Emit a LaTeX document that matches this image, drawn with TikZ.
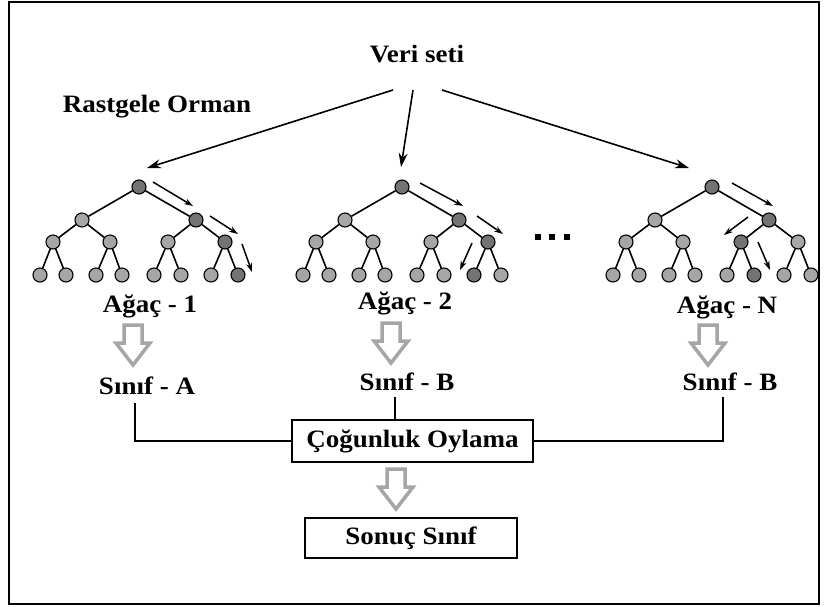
\documentclass[tikz,border=0pt]{standalone}
\usepackage{graphicx}
\usepackage{fontspec}
\setmainfont{Liberation Serif}
\usetikzlibrary{arrows.meta}
\tikzset{
  lbl/.style={inner sep=0pt, anchor=base, font=\fontsize{25}{29}\selectfont\bfseries},
  tn/.style={circle, draw=black, line width=1.1pt, minimum size=14pt, inner sep=0pt},
  lt/.style={tn, fill=black!35},
  dk/.style={tn, fill=black!55},
  tedge/.style={line width=1.6pt},
  trav/.style={line width=1.5pt, -{Stealth[length=9pt,width=6pt]}},
  main/.style={line width=1.6pt, -{Stealth[length=14pt,width=9pt]}},
  box/.style={draw=black, line width=1.6pt, inner sep=0pt, font=\fontsize{25}{29}\selectfont\bfseries},
  conn/.style={line width=1.6pt},
  hollow/.style={draw=black!35, line width=3.5pt, fill=white, line join=miter},
  dotsq/.style={fill=black, minimum size=6.5pt, inner sep=0pt}
}
\newcommand\sx[1]{\scalebox{1.08}[1]{#1}}
% #1 prefix, #2 root x, #3 dark level-3 index, #4 dark leaf index
\newcommand\rftree[4]{%
  \node[dk] (#1r) at (#2,187) {};
  \node[lt] (#1a) at (#2-57,220) {};
  \node[dk] (#1b) at (#2+57,220) {};
  \foreach \i/\dx in {1/-86,2/-29,3/29,4/86}{
    \ifnum\i=#3 \def\st{dk}\else\def\st{lt}\fi
    \node[\st] (#1c\i) at (#2+\dx,242) {};
  }
  \foreach \i/\dx in {1/-99,2/-73,3/-43,4/-17,5/15,6/42,7/72,8/99}{
    \ifnum\i=#4 \def\st{dk}\else\def\st{lt}\fi
    \node[\st] (#1l\i) at (#2+\dx,275) {};
  }
  \draw[tedge] (#1r) -- (#1a);
  \draw[tedge] (#1r) -- (#1b);
  \draw[tedge] (#1a) -- (#1c1);
  \draw[tedge] (#1a) -- (#1c2);
  \draw[tedge] (#1b) -- (#1c3);
  \draw[tedge] (#1b) -- (#1c4);
  \foreach \k/\p/\q in {1/1/2,2/3/4,3/5/6,4/7/8}{
    \draw[tedge] (#1c\k) -- (#1l\p);
    \draw[tedge] (#1c\k) -- (#1l\q);
  }
}
\newcommand\hollowarrow[2]{%
  \draw[hollow] (#1-9,#2) -- (#1+9,#2) -- (#1+9,#2+18) -- (#1+17,#2+18)
     -- (#1,#2+40) -- (#1-17,#2+18) -- (#1-9,#2+18) -- cycle;
}
\begin{document}
\begin{tikzpicture}[x=1pt,y=-1pt]
\useasboundingbox (0,0) rectangle (827,606);
\draw[line width=2pt] (9,2) rectangle (819,604);

% titles
\node[lbl] (veri) at (417,62) {\sx{Veri seti}};
\node[lbl] (orman) at (157,112) {\sx{Rastgele Orman}};

% trees
\rftree{p}{139}{4}{8}
\rftree{q}{402}{4}{7}
\rftree{s}{712}{3}{6}

% main arrows
\coordinate (m1) at (393,90);
\coordinate (m2) at (413,90);
\coordinate (m3) at (442,90);
\coordinate (e1) at (147,168);
\coordinate (e2) at (401,167);
\coordinate (e3) at (689,168);
\draw[main] (m1) -- (e1);
\draw[main] (m2) -- (e2);
\draw[main] (m3) -- (e3);

% traversal arrows tree 1
\draw[trav] (139+14,182) -- (139+54,206);
\draw[trav] (139+71,216) -- (139+99,234);
\draw[trav] (139+103,244) -- (139+113,272);
% tree 2
\draw[trav] (402+18,183) -- (402+61,206);
\draw[trav] (402+75,216) -- (402+101,234);
\draw[trav] (402+70,243) -- (402+58,270);
% tree N
\draw[trav] (712+20,183) -- (712+61,206);
\draw[trav] (712+36,217) -- (712+12,235);
\draw[trav] (712+46,242) -- (712+58,270);

% dots
\node[dotsq] (d1) at (538,237) {};
\node[dotsq] (d2) at (552,237) {};
\node[dotsq] (d3) at (567,237) {};

% tree labels
\node[lbl] (t1) at (150,312) {\sx{Ağaç - 1}};
\node[lbl] (t2) at (405,309) {\sx{Ağaç - 2}};
\node[lbl] (tn) at (727,313) {\sx{Ağaç - N}};

% hollow arrows
\hollowarrow{133}{325}
\hollowarrow{391}{323}
\hollowarrow{708}{325}

% class labels
\node[lbl] (sA) at (147,394) {\sx{Sınıf - A}};
\node[lbl] (sB) at (407,390) {\sx{Sınıf - B}};
\node[lbl] (sN) at (730,390) {\sx{Sınıf - B}};

% boxes
\node[box, minimum width=241pt, minimum height=42pt] (vote) at (412.5,441) {\sx{Çoğunluk Oylama}};
\node[box, minimum width=212pt, minimum height=40pt] (res) at (411,538) {\sx{Sonuç Sınıf}};
\hollowarrow{396}{469}

% connectors
\coordinate (ja) at (135,403);
\coordinate (jb) at (395,397);
\coordinate (jn) at (723,397);
\draw[conn] (ja) |- (vote.west);
\draw[conn] (jb) -- (jb |- vote.north);
\draw[conn] (jn) |- (vote.east);
\end{tikzpicture}
\end{document}
